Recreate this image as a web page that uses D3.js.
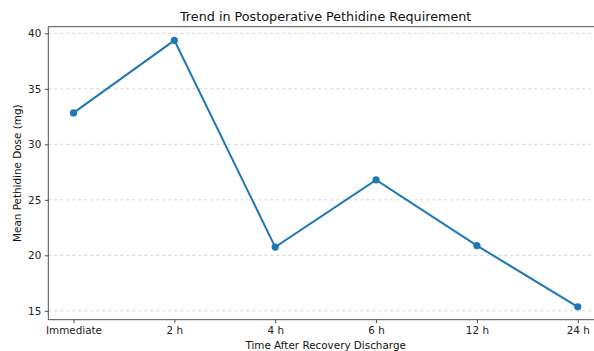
<!DOCTYPE html>
<html><head><meta charset="utf-8">
<script src="https://cdn.jsdelivr.net/npm/d3@7"></script>
<style>body{margin:0;background:#fff}svg{display:block}</style>
</head><body>
<svg id="c" width="594" height="351"></svg>
<script>
const categories = ["Immediate","2 h","4 h","6 h","12 h","24 h"];
const values = [32.83, 39.37, 20.74, 26.79, 20.87, 15.36];
const yTicks = [15,20,25,30,35,40];

const W=594,H=351;
const m={left:48.3,top:26.7,right:603,bottom:319.7};
const svg=d3.select("#c");
const font="DejaVu Sans, sans-serif";
const step=(m.right-m.left)/(5+0.5);
const x=d3.scalePoint().domain(categories).range([m.left+step*0.25, m.right-step*0.25]);
const y=d3.scaleLinear().domain([14.2,40.6]).range([m.bottom,m.top]);

// grid
svg.append("g").selectAll("line").data(yTicks).join("line")
  .attr("x1",m.left).attr("x2",m.right)
  .attr("y1",d=>y(d)).attr("y2",d=>y(d))
  .attr("stroke","#b0b0b0").attr("stroke-opacity",0.7).attr("stroke-width",0.8)
  .attr("stroke-dasharray","3,3");

const line=d3.line().x((d,i)=>x(categories[i])).y(d=>y(d));
svg.append("path").datum(values).attr("d",line).attr("fill","none")
  .attr("stroke","#1f77b4").attr("stroke-width",2);
svg.append("g").selectAll("circle").data(values).join("circle")
  .attr("cx",(d,i)=>x(categories[i])).attr("cy",d=>y(d)).attr("r",3.6).attr("fill","#1f77b4");

// axes
const ya=svg.append("g").attr("transform",`translate(${m.left},0)`)
  .call(d3.axisLeft(y).tickValues(yTicks).tickSize(3.5).tickPadding(3.5));
const xa=svg.append("g").attr("transform",`translate(0,${m.bottom})`)
  .call(d3.axisBottom(x).tickSize(3.5).tickPadding(3.5));
[ya,xa].forEach(a=>{
  a.select(".domain").remove();
  a.selectAll("text").attr("font-family",font).attr("font-size",10.4).attr("fill","#222");
  a.selectAll("line").attr("stroke","#222").attr("stroke-width",0.8);
});
// spines
svg.append("line").attr("x1",m.left).attr("x2",m.left).attr("y1",m.top).attr("y2",m.bottom).attr("stroke","#222").attr("stroke-width",0.8);
svg.append("line").attr("x1",m.left).attr("x2",m.right).attr("y1",m.bottom).attr("y2",m.bottom).attr("stroke","#222").attr("stroke-width",0.8);
svg.append("line").attr("x1",m.left).attr("x2",m.right).attr("y1",m.top).attr("y2",m.top).attr("stroke","#222").attr("stroke-width",0.8);

const cx=(m.left+m.right)/2;
svg.append("text").attr("x",cx).attr("y",21).attr("text-anchor","middle")
  .attr("font-family",font).attr("font-size",12.75).attr("fill","#111")
  .text("Trend in Postoperative Pethidine Requirement");
svg.append("text").attr("x",cx).attr("y",349).attr("text-anchor","middle")
  .attr("font-family",font).attr("font-size",10.4).attr("fill","#111")
  .text("Time After Recovery Discharge");
svg.append("text").attr("transform",`translate(21,${(m.top+m.bottom)/2}) rotate(-90)`)
  .attr("text-anchor","middle")
  .attr("font-family",font).attr("font-size",10.4).attr("fill","#111")
  .text("Mean Pethidine Dose (mg)");
</script>
</body></html>
